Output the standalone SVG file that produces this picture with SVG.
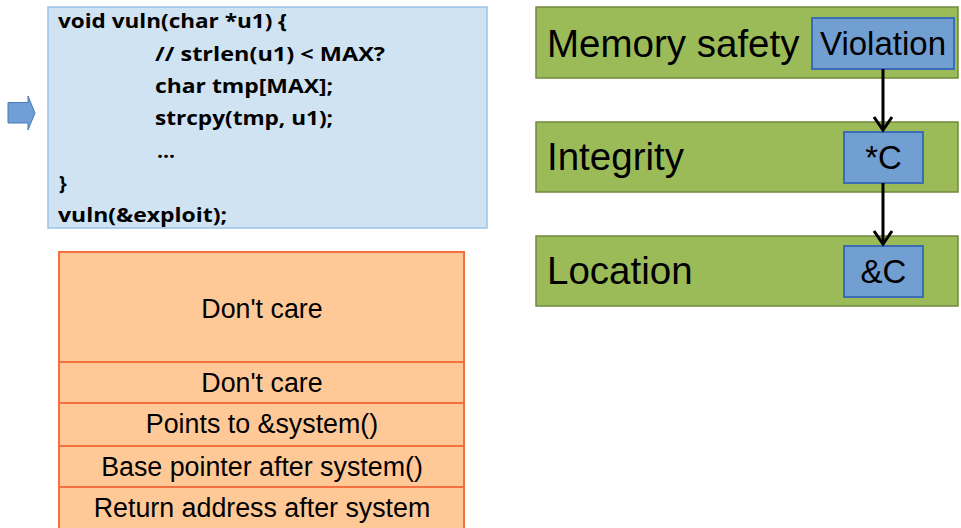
<svg xmlns="http://www.w3.org/2000/svg" width="961" height="528" viewBox="0 0 961 528">
  <defs>
    <style>
      .code { font-family: "Open Sans", "Liberation Sans", Arial, sans-serif; font-weight: bold; font-size: 19.5px; fill: #000; }
      .codebox { fill: #cfe3f3; stroke: #9cc3e6; stroke-width: 1.5; }
      .layer { fill: #9bbb59; stroke: #71893f; stroke-width: 1.5; }
      .layer-label { font-family: "Liberation Sans", Arial, sans-serif; font-size: 38.5px; fill: #000; }
      .tag { fill: #729fd2; stroke: #3b6cb4; stroke-width: 2; }
      .tag-label { font-family: "Liberation Sans", Arial, sans-serif; font-size: 33px; fill: #000; text-anchor: middle; }
      .slot { fill: #ffc997; stroke: #f4703e; stroke-width: 2; }
      .slot-label { font-family: "Liberation Sans", Arial, sans-serif; font-size: 26.8px; fill: #000; text-anchor: middle; }
      .edge { stroke: #000; stroke-width: 3; fill: none; }
    </style>
    <marker id="arrow" viewBox="0 0 20 24" refX="16" refY="12" markerWidth="20" markerHeight="24" markerUnits="userSpaceOnUse" orient="auto">
      <path d="M3,3 L16,12 L3,21" fill="none" stroke="#000" stroke-width="3" stroke-linejoin="miter"/>
    </marker>
  </defs>

  <rect width="961" height="528" fill="#fff"/>

  <!-- pointer arrow next to the code -->
  <g id="pointer">
    <path d="M8,102.5 L28,102.5 L28,96 L35,113 L28,130 L28,123 L8,123 Z" fill="#6f9fd4" stroke="#4a7ab8" stroke-width="1"/>
  </g>

  <!-- code listing -->
  <g id="code">
    <rect class="codebox" x="48" y="7" width="439" height="221"/>
    <text class="code" x="58" y="28" textLength="229" lengthAdjust="spacingAndGlyphs">void vuln(char *u1) {</text>
    <text class="code" x="155" y="60.5" textLength="230" lengthAdjust="spacingAndGlyphs">// strlen(u1) &lt; MAX?</text>
    <text class="code" x="155" y="93" textLength="178" lengthAdjust="spacingAndGlyphs">char tmp[MAX];</text>
    <text class="code" x="155" y="125" textLength="178" lengthAdjust="spacingAndGlyphs">strcpy(tmp, u1);</text>
    <text class="code" x="157" y="157.5" textLength="18" lengthAdjust="spacingAndGlyphs">...</text>
    <text class="code" x="59" y="190">}</text>
    <text class="code" x="58" y="222" textLength="169" lengthAdjust="spacingAndGlyphs">vuln(&amp;exploit);</text>
  </g>

  <!-- stack layout -->
  <g id="stack">
    <rect class="slot" x="59" y="252" width="405" height="110"/>
    <text class="slot-label" x="262" y="318">Don't care</text>
    <rect class="slot" x="59" y="362" width="405" height="41"/>
    <text class="slot-label" x="262" y="392">Don't care</text>
    <rect class="slot" x="59" y="403" width="405" height="43"/>
    <text class="slot-label" x="262" y="433">Points to &amp;system()</text>
    <rect class="slot" x="59" y="446" width="405" height="41"/>
    <text class="slot-label" x="262" y="476">Base pointer after system()</text>
    <rect class="slot" x="59" y="487" width="405" height="45"/>
    <text class="slot-label" x="262" y="517">Return address after system</text>
  </g>

  <!-- attack layers -->
  <g id="memory-safety">
    <rect class="layer" x="536" y="7" width="422" height="71"/>
    <text class="layer-label" x="547" y="57">Memory safety</text>
  </g>
  <g id="integrity">
    <rect class="layer" x="536" y="122" width="422" height="70"/>
    <text class="layer-label" x="547" y="170">Integrity</text>
  </g>
  <g id="location">
    <rect class="layer" x="536" y="236" width="422" height="70"/>
    <text class="layer-label" x="547" y="284">Location</text>
  </g>

  <g id="violation">
    <rect class="tag" x="812" y="18" width="142" height="51"/>
    <text class="tag-label" x="883" y="55">Violation</text>
  </g>
  <g id="deref-c">
    <rect class="tag" x="844" y="132" width="79" height="51"/>
    <text class="tag-label" x="883.5" y="169">*C</text>
  </g>
  <g id="addr-c">
    <rect class="tag" x="844" y="246" width="79" height="51"/>
    <text class="tag-label" x="883.5" y="283">&amp;C</text>
  </g>

  <!-- connectors -->
  <g id="connectors">
    <line class="edge" x1="883" y1="69" x2="883" y2="130" marker-end="url(#arrow)"/>
    <line class="edge" x1="883" y1="183" x2="883" y2="244" marker-end="url(#arrow)"/>
  </g>
</svg>
